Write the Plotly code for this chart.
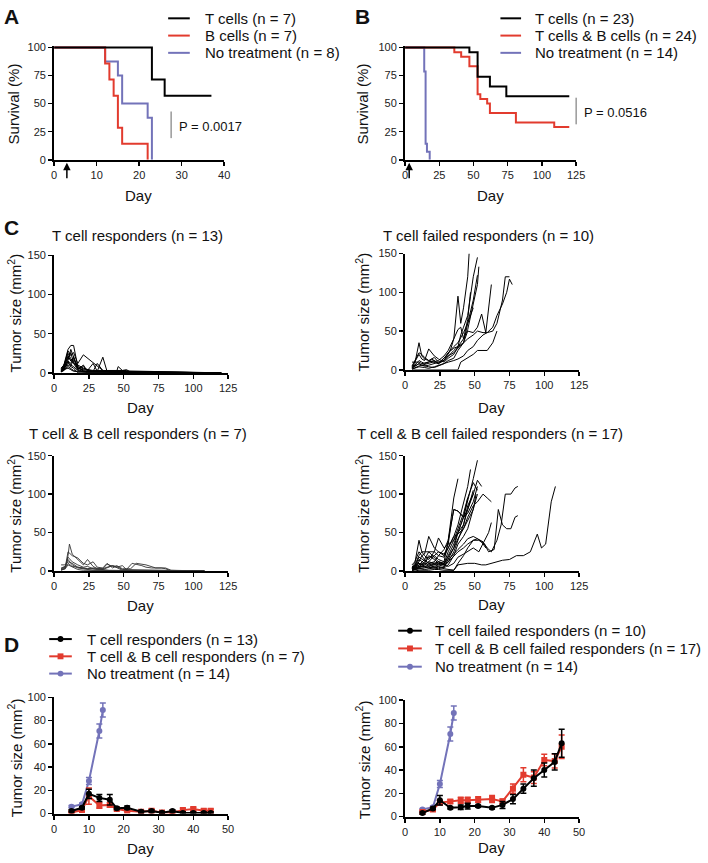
import plotly.graph_objects as go

W, H = 708, 863
FONT = "Liberation Sans, Arial, sans-serif"
RED = "#E23B2E"
BLUE = "#7373B9"

# ---------------- data ----------------
# Panel A survival
A_T_days = [0, 23, 26, 37]; A_T_surv = [100, 71.4, 57.1, 57.1]
A_B_days = [0, 12, 13, 14, 15, 16, 22]; A_B_surv = [100, 85.7, 71.4, 57.1, 28.6, 14.3, 0]
A_N_days = [0, 12, 15, 16, 22, 23]; A_N_surv = [100, 87.5, 75, 50, 37.5, 0]
A_labels = ["T cells (n = 7)", "B cells (n = 7)", "No treatment (n = 8)"]

# Panel B survival
B_T_days = [0, 47, 53, 62, 74, 120]; B_T_surv = [100, 95.7, 73.9, 65.2, 56.5, 56.5]
B_TB_days = [0, 36, 41, 47, 53, 55, 60, 62, 81, 109, 120]
B_TB_surv = [100, 95.8, 91.7, 83.3, 58.3, 54.2, 50, 41.7, 33.3, 29.2, 29.2]
B_N_days = [0, 14, 15, 16, 18]; B_N_surv = [100, 78.6, 14.3, 7.1, 0]
B_labels = ["T cells (n = 23)", "T cells & B cells (n = 24)", "No treatment (n = 14)"]

# Panel C individual tumour curves
TR_days = [
    [5, 7, 10, 12, 14, 17, 21, 24, 28, 120],
    [5, 7, 10, 12, 14, 17, 21, 28, 35, 42, 120],
    [5, 7, 10, 12, 14, 17, 21, 24, 28, 31, 35, 38, 120],
    [5, 7, 10, 12, 14, 17, 21, 28, 45, 46, 49, 52, 56, 120],
    [5, 7, 10, 12, 14, 17, 21, 24, 120],
    [5, 7, 10, 12, 14, 17, 21, 120],
    [5, 7, 10, 12, 14, 17, 21, 28, 38, 45, 52, 55, 120],
    [5, 7, 10, 12, 14, 17, 120],
    [5, 7, 10, 12, 14, 17, 21, 120],
    [5, 7, 10, 12, 14, 17, 120],
    [5, 7, 10, 12, 14, 17, 21, 24, 120],
    [5, 7, 10, 12, 14, 120],
    [5, 7, 10, 12, 14, 17, 21, 24, 28, 31, 35, 120],
]
TR_vals = [
    [5, 10, 30, 35, 35, 8, 2, 0, 0, 0],
    [3, 8, 28, 22, 26, 12, 23, 13, 3, 0, 0],
    [2, 6, 22, 15, 20, 5, 8, 3, 12, 2, 20, 2, 0],
    [4, 9, 25, 18, 14, 6, 4, 2, 2, 8, 3, 4, 0, 0],
    [1, 4, 15, 12, 20, 4, 10, 2, 0],
    [2, 5, 12, 10, 8, 3, 1, 0],
    [3, 6, 18, 26, 12, 8, 5, 3, 3, 3, 3, 0, 0],
    [2, 3, 10, 8, 6, 0, 0],
    [6, 10, 20, 16, 12, 4, 2, 0],
    [1, 3, 8, 5, 3, 1, 0],
    [2, 7, 16, 30, 20, 6, 3, 1, 0],
    [3, 4, 6, 4, 2, 0],
    [1, 5, 14, 9, 17, 10, 6, 4, 2, 12, 3, 0],
]
TF_days = [
    [5, 7, 10, 12, 14, 17, 19, 21, 24, 26, 28, 31, 33, 35, 38, 40, 42, 45, 46],
    [5, 7, 10, 12, 14, 17, 21, 24, 28, 31, 35, 38, 40, 42, 45, 47, 49, 52],
    [5, 7, 10, 12, 14, 17, 21, 24, 28, 31, 35, 38, 42, 45, 49, 52, 53],
    [5, 7, 10, 12, 14, 17, 21, 24, 28, 31, 35, 38, 42, 45, 49, 52],
    [5, 7, 10, 12, 14, 17, 21, 24, 28, 31, 35, 38, 42, 45, 49, 52, 55, 58, 62],
    [5, 7, 10, 12, 14, 17, 21, 24, 28, 31, 35, 38, 42, 45, 49, 52, 56, 59, 63, 66, 70, 72, 75],
    [5, 7, 10, 14, 17, 21, 24, 28, 31, 35, 38, 42, 45, 49, 52, 56, 59, 63, 66, 70, 73, 75, 77],
    [5, 7, 10, 14, 17, 21, 24, 28, 31, 35, 38, 40, 45, 49, 52, 56, 59, 63, 66],
    [5, 7, 10, 12, 14, 17, 21, 24, 28, 31, 35, 38, 40, 42, 45, 47],
    [5, 7, 10, 12, 14, 17, 21, 24, 28, 31, 35, 38, 42, 45, 49],
]
TF_vals = [
    [2, 6, 12, 10, 8, 10, 14, 12, 8, 12, 15, 20, 28, 40, 95, 60, 80, 120, 150],
    [3, 8, 35, 18, 14, 12, 16, 10, 12, 18, 25, 30, 45, 55, 70, 95, 120, 145],
    [4, 10, 20, 14, 12, 27, 18, 14, 10, 15, 20, 30, 40, 52, 85, 110, 133],
    [5, 12, 22, 20, 16, 12, 10, 8, 12, 22, 30, 35, 48, 60, 90, 122],
    [10, 10, 10, 8, 9, 10, 12, 8, 15, 22, 28, 30, 35, 50, 48, 55, 72, 48, 110],
    [2, 4, 8, 6, 5, 6, 8, 10, 12, 18, 22, 28, 35, 40, 45, 50, 48, 48, 50, 60, 90, 120, 120],
    [1, 2, 4, 3, 2, 4, 6, 8, 10, 12, 14, 18, 25, 30, 38, 45, 48, 55, 70, 85, 100, 117, 110],
    [0, 0, 0, 0, 0, 0, 0, 0, 0, 0, 0, 10, 15, 20, 25, 25, 25, 35, 50],
    [1, 3, 5, 6, 7, 8, 10, 12, 18, 25, 40, 52, 55, 40, 65, 100],
    [3, 5, 8, 6, 5, 4, 3, 5, 8, 12, 15, 25, 35, 60, 80],
]
TBR_days = [
    [5, 8, 10, 11, 13, 17, 21, 24, 28, 31, 35, 42, 108],
    [5, 8, 10, 13, 17, 21, 24, 28, 31, 35, 38, 42, 45, 49, 55, 59, 66, 73, 80, 84, 108],
    [5, 8, 10, 13, 17, 21, 24, 28, 35, 38, 42, 45, 49, 108],
    [5, 8, 10, 13, 17, 21, 28, 108],
    [5, 8, 10, 13, 17, 21, 24, 28, 31, 35, 38, 42, 45, 49, 52, 56, 59, 63, 66, 70, 77, 80, 84],
    [5, 8, 10, 13, 17, 21, 108],
    [5, 8, 10, 13, 17, 21, 24, 28, 35, 42, 49, 108],
]
TBR_vals = [
    [1, 3, 20, 35, 22, 15, 8, 15, 6, 3, 2, 0, 0],
    [2, 5, 25, 20, 17, 10, 8, 12, 5, 4, 10, 4, 7, 3, 3, 10, 8, 4, 4, 1, 0],
    [8, 8, 12, 10, 5, 4, 3, 4, 3, 5, 7, 6, 2, 0],
    [3, 6, 15, 8, 4, 3, 1, 0],
    [1, 4, 10, 6, 5, 4, 3, 3, 2, 3, 9, 6, 5, 7, 2, 10, 9, 7, 5, 4, 4, 3, 0],
    [2, 3, 8, 5, 2, 1, 0],
    [4, 6, 18, 12, 8, 5, 6, 3, 2, 7, 1, 0],
]
TBF_days = [
    [5, 7, 10, 12, 14, 17, 21, 24, 28, 31, 35, 38, 42, 45, 49, 52],
    [5, 7, 10, 12, 14, 17, 21, 24, 28, 31, 35, 38, 42, 45, 47],
    [5, 7, 10, 12, 14, 17, 21, 24, 28, 31, 33, 35, 38],
    [5, 7, 10, 12, 14, 17, 21, 24, 28, 31, 35, 38, 42, 45, 49, 52, 55],
    [5, 7, 10, 12, 14, 17, 21, 24, 28, 31, 35, 38, 42, 45, 49, 52, 56, 59, 62],
    [5, 7, 10, 14, 17, 21, 24, 28, 31, 35, 38, 42, 45, 49, 52, 56, 59, 62, 66, 69, 72, 76, 79, 81],
    [5, 7, 10, 14, 17, 21, 24, 28, 31, 35, 38, 42, 45, 49, 53, 57, 60, 64, 67, 70, 73, 76, 79, 81],
    [5, 7, 10, 14, 17, 21, 24, 28, 31, 35, 38, 45, 50, 55, 58, 65, 70, 75, 80, 85, 90, 95, 98, 101, 105, 108],
    [5, 7, 10, 14, 17, 21, 24, 28, 31, 35, 38, 42, 45, 49, 53, 57, 60, 62],
    [5, 7, 10, 12, 14, 17, 21, 24, 28, 31, 33, 35, 38, 42, 45, 49],
    [5, 7, 10, 12, 14, 17, 21, 24, 28, 31, 35, 38, 42, 45, 49, 52],
    [5, 7, 10, 14, 17, 21, 24, 28, 31, 35, 38, 42, 45, 49, 51],
    [5, 7, 10, 14, 17, 21, 24, 28, 31, 35, 38, 42, 45, 49, 52],
    [5, 7, 10, 12, 14, 17, 21, 24, 28, 31, 35, 38, 42, 45],
    [5, 7, 10, 14, 17, 21, 24, 28, 31, 35, 38, 42, 45, 49],
    [5, 7, 10, 14, 17, 21, 24, 28, 31, 35, 38, 42, 45, 49, 52],
    [5, 7, 10, 14, 17, 21, 24, 28, 31, 35, 38, 42, 45, 49, 52, 55, 58],
]
TBF_vals = [
    [5, 10, 40, 25, 20, 15, 25, 43, 30, 35, 40, 50, 70, 90, 120, 144],
    [3, 8, 20, 25, 25, 25, 25, 20, 18, 30, 45, 60, 90, 110, 132],
    [2, 5, 15, 12, 10, 18, 20, 15, 12, 40, 70, 95, 120],
    [4, 6, 10, 8, 12, 20, 15, 10, 8, 20, 35, 50, 60, 80, 100, 118, 110],
    [2, 4, 8, 10, 8, 12, 10, 8, 10, 18, 30, 42, 55, 70, 85, 90, 100, 95, 90],
    [1, 3, 5, 6, 8, 10, 12, 10, 15, 22, 28, 35, 42, 45, 42, 38, 30, 25, 40, 60, 100, 100, 108, 110],
    [2, 4, 6, 5, 4, 6, 8, 6, 12, 20, 25, 30, 35, 40, 40, 35, 25, 28, 80, 60, 55, 55, 70, 72],
    [0, 0, 1, 1, 1, 2, 2, 1, 1, 1, 8, 10, 10, 8, 8, 12, 14, 15, 20, 20, 25, 48, 30, 35, 90, 110],
    [1, 2, 3, 4, 6, 8, 10, 8, 6, 10, 18, 22, 25, 30, 25, 40, 50, 63],
    [8, 12, 25, 20, 22, 45, 30, 25, 20, 35, 60, 80, 78, 70, 80, 105],
    [2, 4, 12, 20, 15, 10, 8, 12, 10, 25, 40, 55, 75, 95, 115, 105],
    [1, 2, 4, 8, 12, 20, 25, 22, 30, 45, 48, 55, 65, 80, 100],
    [3, 6, 18, 14, 10, 12, 20, 28, 40, 80, 78, 70, 75, 90, 110],
    [4, 8, 10, 8, 6, 5, 4, 3, 5, 15, 30, 50, 70, 95],
    [2, 5, 8, 15, 25, 18, 12, 8, 12, 25, 40, 60, 85, 100],
    [1, 3, 6, 10, 8, 5, 6, 4, 8, 20, 35, 45, 55, 80, 100],
    [1, 2, 3, 2, 3, 4, 5, 3, 2, 1, 10, 20, 30, 40, 42, 38, 30],
]
C_titles = ["T cell responders (n = 13)", "T cell failed responders (n = 10)",
            "T cell & B cell responders (n = 7)", "T cell & B cell failed responders (n = 17)"]

# Panel D mean +/- SEM
D_days = [5, 8, 10, 13, 16, 18, 21, 25, 28, 31, 34, 37, 40, 43, 45]
NT_days = [5, 8, 10, 13, 14]
NT_mean = [6, 8, 28, 71, 89]
NT_err = [1, 1, 3, 6, 6]
TRm = [2.3, 5, 17, 13.5, 12, 4.5, 5, 1.7, 2.3, 0.8, 2.3, 0.5, 0.5, 0.5, 0.5]
TRe = [1, 1, 4, 3, 4.5, 1, 1.5, 1, 1, 1, 1, 1, 1, 1, 1]
TBRm = [1, 3, 15, 7, 7.5, 4, 2.5, 1.5, 2.5, 1, 1, 3, 4, 2.5, 2.5]
TBRe = [0.5, 1, 7, 2.5, 2, 1, 1, 1, 1.5, 1, 1, 1.5, 1.5, 1.5, 1.5]
TFm = [3, 7, 14, 7.5, 8, 9, 9, 7.5, 10, 15, 24, 33, 40, 47, 63]
TFe = [1, 1, 4, 1, 2, 2.5, 1, 1, 3, 4, 4, 7, 6, 7, 12]
TBFm = [4, 6, 12, 13, 14, 14, 14.5, 15, 13, 24, 36, 33.5, 48.6, 47.7, 60]
TBFe = [1, 1, 2, 1.5, 2.5, 2.5, 2.5, 3, 2, 4, 6, 5, 5, 6, 10]
D_left_labels = ["T cell responders (n = 13)", "T cell & B cell responders (n = 7)", "No treatment (n = 14)"]
D_right_labels = ["T cell failed responders (n = 10)", "T cell & B cell failed responders (n = 17)",
                  "No treatment (n = 14)"]

# ---------------- layout helpers ----------------
def px(x):
    return x / W

def py(y):
    return 1 - y / H

panels = [
    (52, 225, 156, 156 - 101.5 * 1.14, [0, 40], [0, 101.5], [0, 10, 20, 30, 40], [0, 25, 50, 75, 100]),
    (409, 583, 156, 156 - 101.5 * 1.14, [0, 125], [0, 101.5], [0, 25, 50, 75, 100, 125], [0, 25, 50, 75, 100]),
    (52, 229, 372, 253, [0, 125], [0, 150], [0, 25, 50, 75, 100, 125], [0, 50, 100, 150]),
    (409, 586, 369, 251, [0, 125], [0, 150], [0, 25, 50, 75, 100, 125], [0, 50, 100, 150]),
    (52, 229, 573, 456, [0, 125], [0, 150], [0, 25, 50, 75, 100, 125], [0, 50, 100, 150]),
    (409, 586, 573, 456, [0, 125], [0, 150], [0, 25, 50, 75, 100, 125], [0, 50, 100, 150]),
    (52, 229, 819, 701, [0, 50], [0, 100], [0, 10, 20, 30, 40, 50], [0, 20, 40, 60, 80, 100]),
    (409, 586, 822, 704, [0, 50], [0, 100], [0, 10, 20, 30, 40, 50], [0, 20, 40, 60, 80, 100]),
]

layout = dict(
    width=W, height=H, margin=dict(l=0, r=0, t=0, b=0),
    paper_bgcolor="white", plot_bgcolor="white", showlegend=False,
    font=dict(family=FONT, color="#111"),
)
for i, (x0, x1, yb, yt, xr, yr, xt, yt_ticks) in enumerate(panels):
    n = "" if i == 0 else str(i + 1)
    common = dict(showline=True, linewidth=2, linecolor="black", ticks="outside",
                  ticklen=4, tickwidth=1.5, tickcolor="black", showgrid=False,
                  zeroline=False, tickfont=dict(size=11, family=FONT, color="#222"),
                  fixedrange=True)
    layout["xaxis" + n] = dict(common, domain=[px(x0), px(x1)], range=xr,
                               tickvals=xt, anchor="y" + n)
    layout["yaxis" + n] = dict(common, domain=[py(yb), py(yt)], range=yr,
                               tickvals=yt_ticks, anchor="x" + n)

fig = go.Figure()

def ax(i):
    n = "" if i == 0 else str(i + 1)
    return dict(xaxis="x" + n, yaxis="y" + n)

for d, s, c in [(A_N_days, A_N_surv, BLUE), (A_B_days, A_B_surv, RED), (A_T_days, A_T_surv, "black")]:
    fig.add_trace(go.Scatter(x=d, y=s, mode="lines", line=dict(color=c, width=2, shape="hv"), **ax(0)))
for d, s, c in [(B_N_days, B_N_surv, BLUE), (B_TB_days, B_TB_surv, RED), (B_T_days, B_T_surv, "black")]:
    fig.add_trace(go.Scatter(x=d, y=s, mode="lines", line=dict(color=c, width=2, shape="hv"), **ax(1)))

for k, (dd, vv, col, wd) in enumerate([(TR_days, TR_vals, "black", 1.0), (TF_days, TF_vals, "black", 1.0),
                                       (TBR_days, TBR_vals, "#333333", 0.9), (TBF_days, TBF_vals, "black", 1.0)]):
    for d, v in zip(dd, vv):
        fig.add_trace(go.Scatter(x=d, y=v, mode="lines", line=dict(color=col, width=wd), **ax(2 + k)))

def dtrace(x, y, e, col, sym, i):
    return go.Scatter(x=x, y=y, mode="lines+markers",
                      line=dict(color=col, width=2),
                      marker=dict(color=col, size=6, symbol=sym),
                      error_y=dict(type="data", array=e, visible=True, color=col, thickness=1.5, width=3),
                      **ax(i))

fig.add_trace(dtrace(NT_days, NT_mean, NT_err, BLUE, "circle", 6))
fig.add_trace(dtrace(D_days, TBRm, TBRe, RED, "square", 6))
fig.add_trace(dtrace(D_days, TRm, TRe, "black", "circle", 6))
fig.add_trace(dtrace(NT_days, NT_mean, NT_err, BLUE, "circle", 7))
fig.add_trace(dtrace(D_days, TBFm, TBFe, RED, "square", 7))
fig.add_trace(dtrace(D_days, TFm, TFe, "black", "circle", 7))

ann = []
shapes = []

def text(x, y, s, size=15, angle=0, xanchor="center", bold=False):
    ann.append(dict(xref="paper", yref="paper", x=px(x), y=py(y), text=("<b>%s</b>" % s) if bold else s,
                    showarrow=False, xanchor=xanchor, yanchor="middle", textangle=angle,
                    font=dict(size=size, family=FONT, color="#111")))

text(9, 11, "A", 21, bold=True)
text(366, 11, "B", 21, bold=True)
text(9, 225, "C", 21, bold=True)
text(9, 648, "D", 21, bold=True)

for (xc, yc) in [(138, 192), (496, 192)]:
    text(xc, yc, "Day")
for (xc, yc) in [(11, 99), (366, 99)]:
    text(xc, yc, "Survival (%)", angle=-90)
for (xc, yc) in [(140, 407), (497, 407), (140, 608), (497, 607), (140, 854), (497, 853)]:
    text(xc, yc, "Day")
for (xc, yc) in [(12, 311), (366, 310), (12, 514), (366, 514), (12, 762), (366, 764)]:
    text(xc, yc, "Tumor size (mm<sup>2</sup>)", angle=-90)

for (xc, yc), t in zip([(137, 233), (494, 233), (137, 434), (495, 434)], C_titles):
    text(xc, yc, t)

def leg_line(x0, x1, y, col, marker=None):
    shapes.append(dict(type="line", xref="paper", yref="paper", x0=px(x0), x1=px(x1), y0=py(y), y1=py(y),
                       line=dict(color=col, width=2)))
    if marker:
        xc = (x0 + x1) / 2
        r = 3
        shapes.append(dict(type=marker, xref="paper", yref="paper", x0=px(xc - r), x1=px(xc + r),
                           y0=py(y + r), y1=py(y - r), fillcolor=col, line=dict(color=col, width=0)))

rowsAB = [12.5, 30, 47.5]
for lbl, y, col in zip(A_labels, rowsAB, ["black", RED, BLUE]):
    leg_line(168, 190, y, col)
    text(203, y, lbl, 15, xanchor="left")
for lbl, y, col in zip(B_labels, rowsAB, ["black", RED, BLUE]):
    leg_line(506, 527, y, col)
    text(539, y, lbl, 15, xanchor="left")

for lbl, y, col, mk in zip(D_left_labels, [642, 659.5, 677], ["black", RED, BLUE], ["circle", "rect", "circle"]):
    leg_line(47, 70, y, col, mk)
    text(83, y, lbl, 15, xanchor="left")
for lbl, y, col, mk in zip(D_right_labels, [633.5, 651.5, 670], ["black", RED, BLUE], ["circle", "rect", "circle"]):
    leg_line(402, 426, y, col, mk)
    text(437, y, lbl, 15, xanchor="left")

shapes.append(dict(type="line", xref="paper", yref="paper", x0=px(171), x1=px(171), y0=py(107), y1=py(134),
                   line=dict(color="#666", width=1)))
text(177, 122, "P = 0.0017", 13, xanchor="left")
shapes.append(dict(type="line", xref="paper", yref="paper", x0=px(583), x1=px(583), y0=py(93), y1=py(120),
                   line=dict(color="#666", width=1)))
text(589, 108, "P = 0.0516", 13, xanchor="left")

for xr_name in ["x", "x2"]:
    ann.append(dict(xref=xr_name, yref="paper", x=3, y=py(159), ax=0, ay=17, text="",
                    showarrow=True, arrowhead=2, arrowsize=1, arrowwidth=1.5, arrowcolor="black",
                    axref="pixel", ayref="pixel"))

layout["annotations"] = ann
layout["shapes"] = shapes
fig.update_layout(**layout)
fig.write_html("out.html",
               config={"displayModeBar": False, "staticPlot": True},
               post_script="document.body.style.margin='0';document.body.style.padding='0';"
                           "document.documentElement.style.overflow='hidden';")
